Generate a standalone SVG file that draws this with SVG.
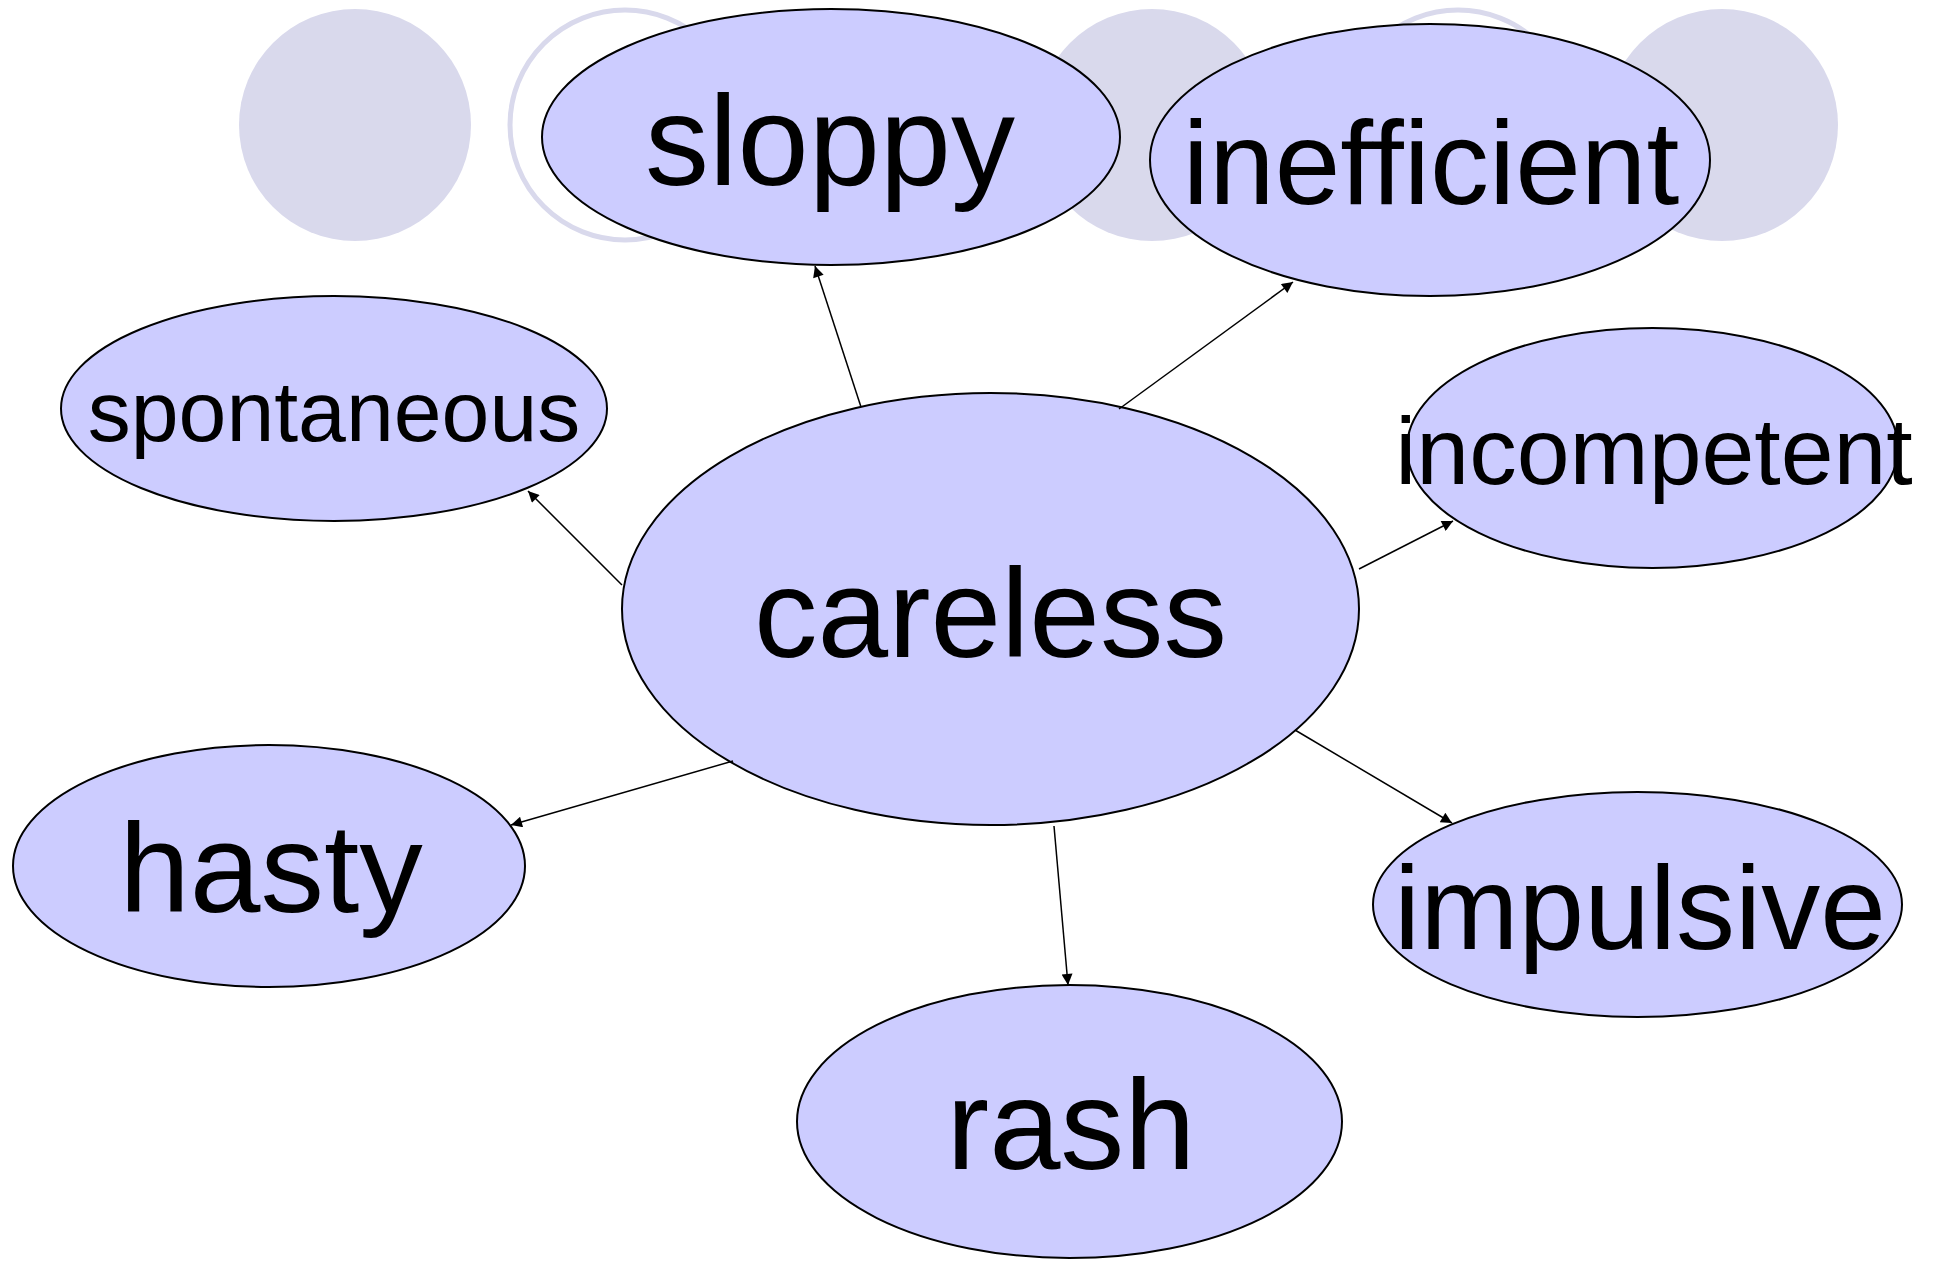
<svg xmlns="http://www.w3.org/2000/svg" width="1943" height="1261" viewBox="0 0 1943 1261">
<style>
.bg{fill:#d9d9ec;stroke:none}
.ring{fill:none;stroke:#d9d9ec;stroke-width:5}
.node ellipse{fill:#ccccff;stroke:#000;stroke-width:2}
.node text{font-family:"Liberation Sans",Arial,sans-serif;fill:#000;text-anchor:middle}
.edge{stroke:#000;stroke-width:1.5;fill:none;marker-end:url(#ah)}
</style>
<defs>
<marker id="ah" viewBox="0 0 10 10" refX="10" refY="5" markerUnits="userSpaceOnUse" markerWidth="17" markerHeight="11" orient="auto">
<path d="M0,0 L10,5 L0,10 z" fill="#000"/>
</marker>
</defs>
<rect width="1943" height="1261" fill="#fff"/>
<g id="background">
<circle class="bg" cx="355" cy="125" r="116"/>
<circle class="ring" cx="625" cy="125" r="115"/>
<circle class="bg" cx="1152" cy="125" r="116"/>
<circle class="ring" cx="1458" cy="125" r="115"/>
<circle class="bg" cx="1722" cy="125" r="116"/>
</g>
<g id="sloppy" class="node">
<ellipse cx="831" cy="137" rx="289" ry="128"/>
<text x="830" y="185" font-size="128">sloppy</text>
</g>
<g id="inefficient" class="node">
<ellipse cx="1430" cy="160" rx="280" ry="136"/>
<text x="1431" y="204" font-size="118">inefficient</text>
</g>
<g id="spontaneous" class="node">
<ellipse cx="334" cy="408.5" rx="273" ry="112.5"/>
<text x="334" y="441" font-size="86">spontaneous</text>
</g>
<g id="incompetent" class="node">
<ellipse cx="1652.5" cy="448" rx="245.5" ry="120"/>
<text x="1654" y="484" font-size="95">incompetent</text>
</g>
<g id="careless" class="node">
<ellipse cx="990.5" cy="609" rx="368.5" ry="216"/>
<text x="990.5" y="657" font-size="127">careless</text>
</g>
<g id="hasty" class="node">
<ellipse cx="269" cy="866" rx="256" ry="121"/>
<text x="271" y="912" font-size="127">hasty</text>
</g>
<g id="impulsive" class="node">
<ellipse cx="1637.5" cy="904.5" rx="264.5" ry="112.5"/>
<text x="1640" y="949" font-size="118">impulsive</text>
</g>
<g id="rash" class="node">
<ellipse cx="1069.5" cy="1121.5" rx="272.5" ry="136.5"/>
<text x="1071" y="1169" font-size="128">rash</text>
</g>
<g id="connectors">
<line class="edge" x1="861" y1="407" x2="815" y2="266"/>
<line class="edge" x1="1119" y1="409" x2="1293" y2="282"/>
<line class="edge" x1="622" y1="585" x2="528" y2="491"/>
<line class="edge" x1="1359" y1="569" x2="1453" y2="521"/>
<line class="edge" x1="1295" y1="730" x2="1452" y2="823"/>
<line class="edge" x1="1054" y1="826" x2="1068" y2="985"/>
<line class="edge" x1="733" y1="761" x2="511" y2="825"/>
</g>
</svg>
